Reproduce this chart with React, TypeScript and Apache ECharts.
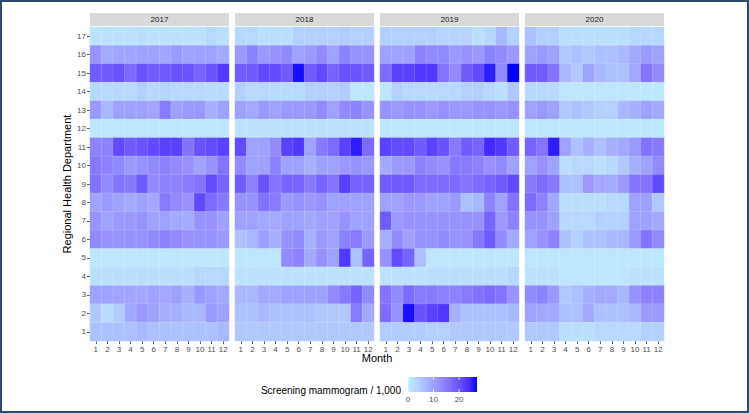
import React, { useEffect, useRef } from "react";
import * as echarts from "echarts";

const months = ["1", "2", "3", "4", "5", "6", "7", "8", "9", "10", "11", "12"];
const departments = ["1", "2", "3", "4", "5", "6", "7", "8", "9", "10", "11", "12", "13", "14", "15", "16", "17"];
const years = ["2017", "2018", "2019", "2020"];

// Each year's rows are listed from department 17 (top) down to department 1 (bottom), months 1..12
const rows2017 = [
  [1.5, 1.5, 1.5, 1.5, 2, 1.5, 1.5, 1.5, 1.5, 1.5, 3, 2],
  [12, 9, 9.5, 9.5, 10, 10, 9.5, 11, 10, 10, 10, 9],
  [19, 19, 20, 17, 20, 19, 19, 20, 20, 18, 20, 23],
  [3, 3, 3, 3, 4, 3, 3.5, 3, 3, 3, 2.5, 2.5],
  [11, 7, 10, 10, 10, 9.5, 15, 10, 11, 11, 8, 10],
  [1, 1, 1, 1, 1, 1, 1, 1, 1, 1, 1, 1],
  [14, 14, 21, 19, 20, 21, 22, 22, 16, 20, 21, 22],
  [15, 14, 13, 11, 12, 13, 14, 13, 12, 10, 12, 16],
  [16, 13, 16, 15, 19, 13, 14, 14, 15, 16, 21, 18],
  [10, 11, 10, 9, 10, 9, 15, 13, 12, 21, 17, 15],
  [12, 10, 11, 11, 12, 10, 10, 9, 9, 12, 12, 10],
  [13, 12, 12, 12, 12, 13, 14, 13, 12, 12, 12, 11],
  [1, 1, 1, 1, 1, 1, 1, 1, 1, 1, 1, 1],
  [2, 2, 2, 2, 2, 2, 2, 2, 2, 3, 3, 3],
  [10, 10, 9.5, 9.5, 9, 10, 9, 10, 8, 11, 10, 9],
  [5, 2.5, 4.5, 9, 11, 10, 8, 8, 7, 7, 11, 10],
  [6, 6, 6, 6, 7, 6, 6, 6, 6, 6, 6, 7],
];

const rows2018 = [
  [3, 3, 2, 2, 2, 4, 4, 4, 4, 4.5, 4, 4],
  [11, 14, 11, 12, 13, 10, 11, 13, 10, 14, 12, 12],
  [19, 19, 21, 21, 19, 26, 19, 21, 18, 20, 20, 19],
  [4, 3, 3, 2.5, 2.5, 2.5, 4, 4, 4, 4.5, 1, 1],
  [10, 9, 11, 10, 11, 11, 11, 13, 10, 13, 14, 12],
  [1.5, 1.5, 1.5, 1.5, 1.5, 1.5, 1.5, 1.5, 1.5, 1.5, 1.5, 1.5],
  [21, 10, 10, 13, 22, 23, 10, 15, 17, 22, 25, 17],
  [13, 10, 10, 14, 10, 10, 8, 10, 10, 11, 12, 11],
  [19, 14, 20, 16, 18, 18, 15, 18, 16, 22, 18, 18],
  [12, 12, 16, 15, 11, 12, 11, 12, 10, 10, 10, 10],
  [10, 10, 9, 9, 10, 10, 9, 10, 10, 12, 10, 10],
  [6, 7, 10, 8, 12, 13, 8, 11, 10, 14, 15, 11],
  [1, 1, 1, 1, 13, 14, 9, 12, 10, 23, 6, 18],
  [1.5, 1.5, 1.5, 1.5, 1.5, 1.5, 1.5, 1.5, 1.5, 1.5, 1.5, 1.5],
  [7, 7, 9, 9, 10, 10, 10, 10, 13, 15, 18, 13],
  [6, 6, 7, 6, 6, 6, 6, 5, 5, 5, 15, 9],
  [5, 5, 5, 5, 5, 5, 5, 5, 5, 5, 5, 5],
];

const rows2019 = [
  [4, 4, 4, 4, 4, 3.5, 3.5, 3.5, 2, 3, 7, 4],
  [10, 10, 10, 14, 13, 13, 11, 12, 11, 14, 13, 11],
  [17, 22, 22, 23, 23, 16, 13, 19, 21, 25, 13, 27],
  [1, 4, 3, 3, 3, 3, 3, 4, 4, 3, 2, 5],
  [12, 11, 12, 12, 11, 12, 11, 11, 12, 12, 11, 12],
  [1, 1, 1, 1, 1, 1, 1, 1, 1, 1, 1, 1],
  [22, 21, 21, 19, 22, 20, 15, 19, 18, 24, 23, 19],
  [9, 11, 11, 14, 13, 12, 15, 15, 14, 12, 13, 10],
  [19, 19, 19, 17, 17, 17, 17, 16, 17, 18, 19, 21],
  [10, 10, 11, 11, 10, 10, 11, 6, 7, 14, 10, 16],
  [19, 11, 12, 12, 12, 12, 12, 12, 12, 18, 11, 14],
  [8, 13, 10, 12, 12, 13, 12, 12, 15, 19, 13, 9],
  [12, 21, 18, 6, 1, 1, 1, 1, 1, 1, 1, 1],
  [1.5, 1.5, 1.5, 1.5, 2, 2, 2, 2, 2, 2, 2, 3],
  [16, 13, 17, 15, 15, 14, 14, 15, 16, 17, 16, 12],
  [17, 12, 26, 20, 22, 23, 8, 6, 6, 6, 6, 7],
  [4.5, 4.5, 4.5, 4.5, 4, 4, 5, 5, 5, 5, 5, 5],
];

const rows2020 = [
  [6, 4, 4, 2, 2, 2, 2, 2, 2, 3, 3, 3],
  [10, 11, 10, 5, 6, 5, 6, 6, 7, 9, 11, 10],
  [19, 19, 16, 7, 5, 10, 7, 6, 6, 9, 16, 13],
  [3, 3, 3, 1, 1, 1, 1, 1, 1, 1, 1, 1],
  [10, 11, 10, 5, 6, 5, 4, 4, 7, 8, 10, 9],
  [1, 1, 1, 1, 1, 1, 1, 1, 1, 1, 1, 1],
  [18, 16, 25, 10, 6, 8, 6, 8, 9, 11, 16, 15],
  [10, 12, 10, 2, 3, 3, 2, 3, 5, 8, 10, 13],
  [15, 17, 15, 6, 6, 11, 9, 9, 11, 16, 16, 21],
  [17, 14, 9, 2, 2, 2, 2, 3, 3, 10, 10, 5],
  [12, 12, 10, 3, 3, 3, 4, 4, 4, 10, 10, 9],
  [10, 12, 14, 6, 4, 6, 6, 7, 7, 11, 16, 13],
  [1, 1, 1, 1, 1, 1, 1, 1, 1, 1, 1, 1],
  [1.5, 1.5, 1.5, 1, 1, 1, 1, 1, 1, 1.5, 1.5, 1.5],
  [13, 14, 11, 5, 6, 8, 9, 9, 7, 12, 14, 14],
  [10, 9, 9, 6, 6, 9, 6, 6, 6, 7, 11, 11],
  [5, 5, 5, 2, 2, 2, 3, 3, 3, 3, 4, 4],
];

const legendTicks = [0, 10, 20];
const legendMin = 0;
const legendMax = 27;

const allRows = [rows2017, rows2018, rows2019, rows2020];

// Lab-like interpolation from lightblue1 to blue
const palette = ["#BFEFFF", "#B6D5FF", "#ABBAFF", "#9FA0FF", "#9086FF", "#7E6CFF", "#6851FF", "#4A32FF", "#0000FF"];

const FONT = "Liberation Sans, Arial, Helvetica, sans-serif";

export default function App() {
  const ref = useRef<HTMLDivElement>(null);
  useEffect(() => {
    document.body.style.margin = "0";
    const chart = echarts.init(ref.current!, null, { renderer: "svg" });
    const lefts = [90, 235, 380, 525];
    const pw = 139;
    const top = 27;
    const ph = 314;

    const grids = lefts.map((l) => ({ left: l, top, width: pw, height: ph }));
    const xAxes = lefts.map((_, i) => ({
      type: "category",
      gridIndex: i,
      data: months,
      axisLine: { show: false },
      axisTick: { show: true, alignWithLabel: true, length: 3, lineStyle: { color: "#333333", width: 0.8 } },
      axisLabel: { color: "#4D4D4D", fontSize: 8, margin: 4, interval: 0, fontFamily: FONT },
      splitLine: { show: false },
      splitArea: { show: false },
    }));
    const yAxes = lefts.map((_, i) => ({
      type: "category",
      gridIndex: i,
      data: departments,
      axisLine: { show: false },
      axisTick: { show: i === 0, alignWithLabel: true, length: 3, lineStyle: { color: "#333333", width: 0.8 } },
      axisLabel: { show: i === 0, color: "#4D4D4D", fontSize: 8, margin: 4, fontFamily: FONT },
      splitLine: { show: false },
      splitArea: { show: false },
    }));
    const series = allRows.map((rows, i) => {
      const data: number[][] = [];
      rows.forEach((row, r) => {
        const deptIdx = departments.length - 1 - r;
        row.forEach((v, m) => data.push([m, deptIdx, v]));
      });
      return {
        type: "heatmap",
        xAxisIndex: i,
        yAxisIndex: i,
        data,
        itemStyle: { borderWidth: 0.4, borderColor: "rgba(255,255,255,0.35)" },
        emphasis: { disabled: true },
      };
    });

    const graphics: any[] = [];
    lefts.forEach((l, i) => {
      graphics.push({
        type: "rect",
        shape: { x: l, y: 13, width: pw, height: 13 },
        style: { fill: "#D9D9D9" },
        silent: true,
      });
      graphics.push({
        type: "text",
        x: l + pw / 2,
        y: 19.5,
        style: { text: years[i], fill: "#1A1A1A", font: `8px ${FONT}`, textAlign: "center", textVerticalAlign: "middle" },
        silent: true,
      });
    });
    graphics.push({
      type: "text",
      x: 67,
      y: 184,
      rotation: Math.PI / 2,
      style: { text: "Regional Health Department", fill: "#000000", font: `11px ${FONT}`, textAlign: "center", textVerticalAlign: "middle" },
    });
    graphics.push({
      type: "text",
      x: 377,
      y: 358,
      style: { text: "Month", fill: "#000000", font: `11px ${FONT}`, textAlign: "center", textVerticalAlign: "middle" },
    });
    // legend
    const lx = 408;
    const lw = 69;
    const ly = 377;
    const lh = 15;
    graphics.push({
      type: "text",
      x: 401,
      y: 390,
      style: { text: "Screening mammogram / 1,000", fill: "#000000", font: `10px ${FONT}`, textAlign: "right", textVerticalAlign: "middle" },
    });
    graphics.push({
      type: "rect",
      shape: { x: lx, y: ly, width: lw, height: lh },
      style: {
        fill: new echarts.graphic.LinearGradient(
          0,
          0,
          1,
          0,
          palette.map((c, k) => ({ offset: k / (palette.length - 1), color: c }))
        ),
      },
    });
    legendTicks.forEach((t) => {
      const x = lx + ((t - legendMin) / (legendMax - legendMin)) * lw;
      graphics.push({ type: "line", shape: { x1: x, y1: ly, x2: x, y2: ly + 3 }, style: { stroke: "#FFFFFF", lineWidth: 0.8 } });
      graphics.push({ type: "line", shape: { x1: x, y1: ly + lh - 3, x2: x, y2: ly + lh }, style: { stroke: "#FFFFFF", lineWidth: 0.8 } });
      graphics.push({
        type: "text",
        x,
        y: 399,
        style: { text: String(t), fill: "#4D4D4D", font: `8px ${FONT}`, textAlign: "center", textVerticalAlign: "middle" },
      });
    });
    graphics.push({
      type: "rect",
      shape: { x: 1, y: 1, width: 747, height: 411 },
      style: { fill: "none", stroke: "#2C4A6E", lineWidth: 2 },
      silent: true,
    });

    chart.setOption({
      animation: false,
      backgroundColor: "#FFFFFF",
      textStyle: { fontFamily: FONT },
      grid: grids,
      xAxis: xAxes,
      yAxis: yAxes,
      visualMap: {
        type: "continuous",
        show: false,
        min: legendMin,
        max: legendMax,
        dimension: 2,
        seriesIndex: [0, 1, 2, 3],
        inRange: { color: palette },
      },
      series,
      graphic: graphics,
    });
    return () => chart.dispose();
  }, []);
  return <div ref={ref} style={{ width: 749, height: 413 }} />;
}
